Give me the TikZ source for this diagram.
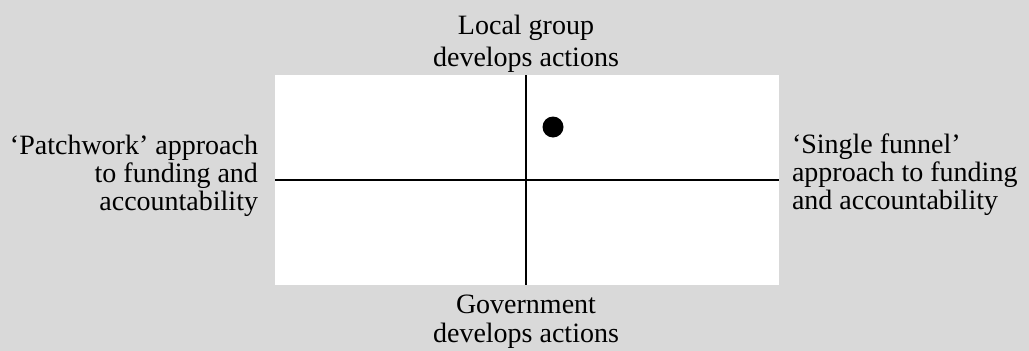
\documentclass[tikz,border=0pt]{standalone}
\usepackage{fontspec}
\setmainfont{Liberation Serif}
\definecolor{bggray}{HTML}{D9D9D9}
\tikzset{
  axisline/.style={line width=2pt, black},
  lbl/.style={inner sep=0pt, outer sep=0pt, font={\fontsize{28pt}{28pt}\selectfont}},
}
\begin{document}
\begin{tikzpicture}[x=1pt, y=-1pt]
  \fill[bggray] (0,0) rectangle (1029,351);
  \useasboundingbox (0,0) rectangle (1029,351);
  \node[fill=white, inner sep=0pt, minimum width=504pt, minimum height=210pt, anchor=north west] (plane) at (275,75) {};
  \coordinate (xl) at (275,179.5);
  \coordinate (xr) at (779,179.5);
  \coordinate (yt) at (525.5,75);
  \coordinate (yb) at (525.5,285);
  \draw[axisline] (xl) -- (xr);
  \draw[axisline] (yt) -- (yb);
  \node[circle, fill=black, inner sep=0pt, minimum size=21pt] (dot) at (553,127) {};
  \node[lbl, align=center, anchor=base] (top) at (526,66) {Local group\\[4pt]develops actions};
  \node[lbl, align=center, anchor=base] (bottom) at (526,342) {Government\\[1pt]develops actions};
  \node[lbl, align=right, anchor=base east] (left) at (258,210) {‘Patchwork’ approach\\to funding and\\accountability};
  \node[lbl, align=left, anchor=base west] (right) at (792,209) {‘Single funnel’\\approach to funding\\and accountability};
\end{tikzpicture}
\end{document}
